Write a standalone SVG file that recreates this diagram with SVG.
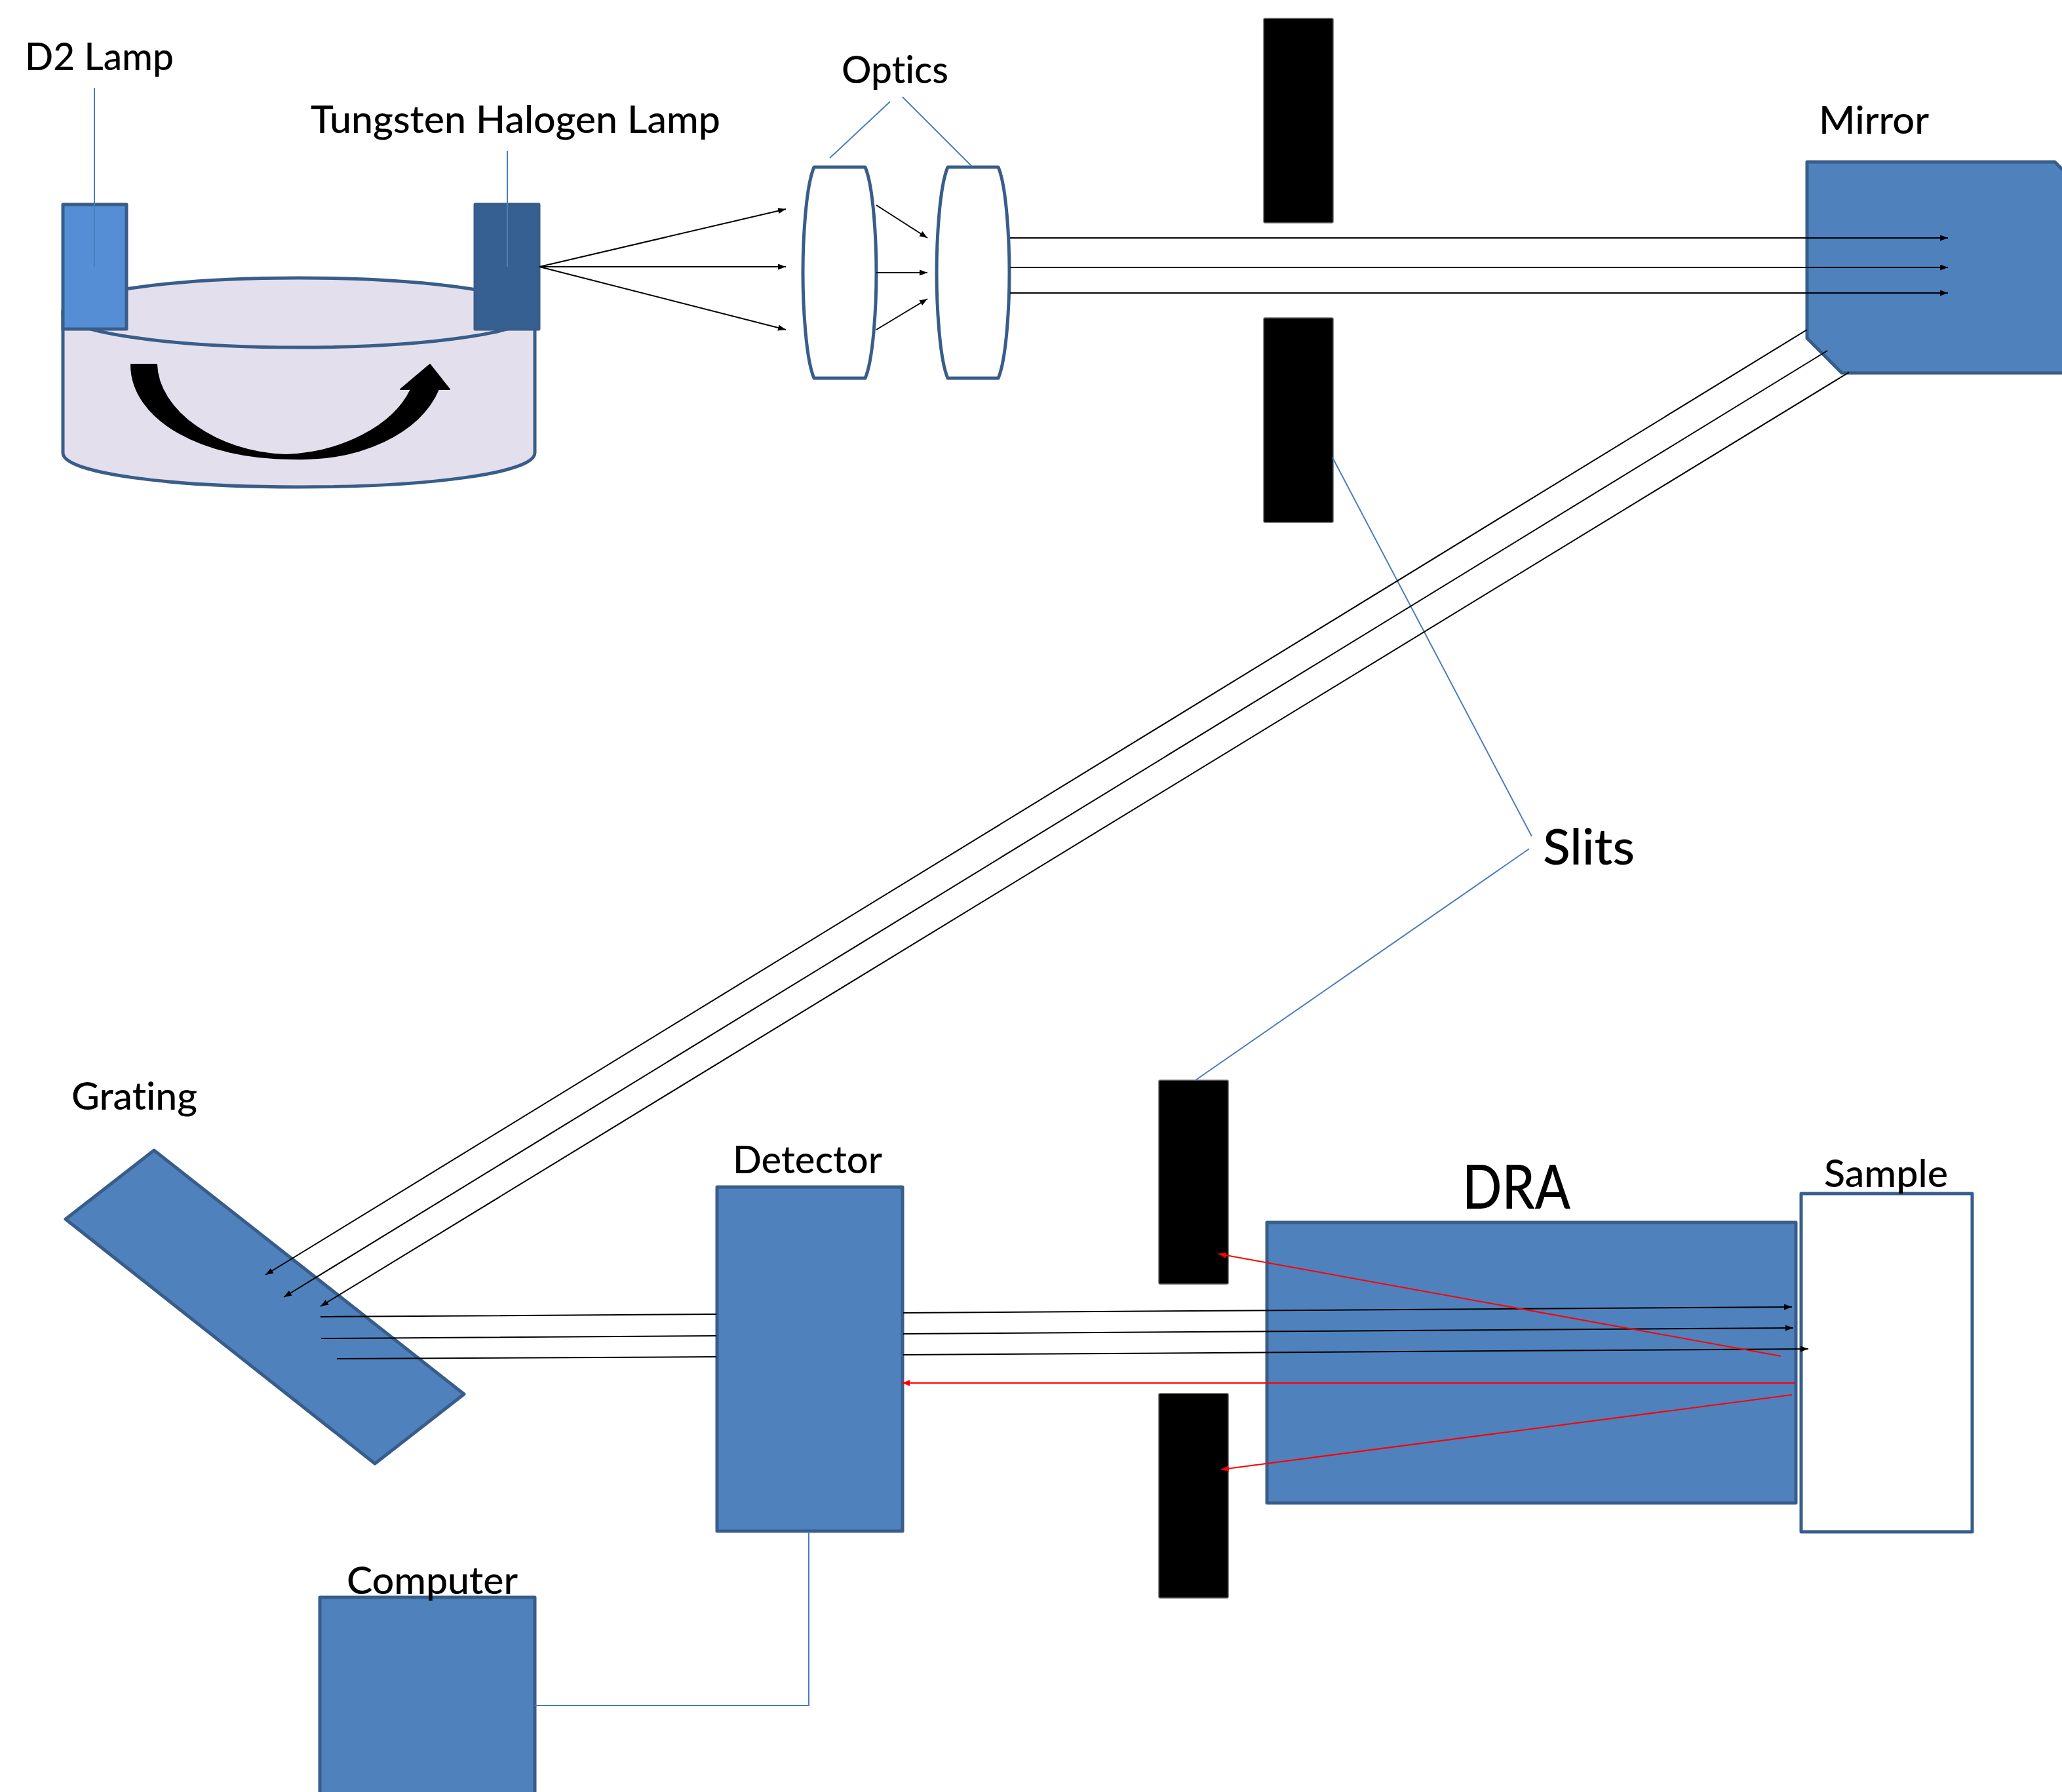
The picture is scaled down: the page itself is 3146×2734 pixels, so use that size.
<svg xmlns="http://www.w3.org/2000/svg" width="3146" height="2734" viewBox="0 0 3146 2734">
<style>
.b{fill:#4F81BD;stroke:#385D8A;stroke-width:5;stroke-linejoin:round}
.w{fill:#fff;stroke:#385D8A;stroke-width:5;stroke-linejoin:round}
.s{fill:#000;stroke:#666;stroke-width:1.5}
.t{font-family:Lato,"Liberation Sans",sans-serif;font-size:57px;font-weight:500;font-variant-ligatures:none;fill:#000}
.beam{fill:none;stroke:#000;stroke-width:2}
.arr{fill:none;stroke:#000;stroke-width:2;marker-end:url(#ak)}
.red{fill:none;stroke:#F00;stroke-width:2;marker-end:url(#ar)}
.lead{fill:none;stroke:#4A7EBB;stroke-width:2}
</style>
<defs>
<marker id="ak" markerUnits="userSpaceOnUse" markerWidth="13" markerHeight="10" refX="12" refY="4.500" orient="auto"><path d="M0 0L12 4.500L0 9Z" fill="#000"/></marker>
<marker id="ar" markerUnits="userSpaceOnUse" markerWidth="13" markerHeight="10" refX="12" refY="4.500" orient="auto"><path d="M0 0L12 4.500L0 9Z" fill="#F00"/></marker>
</defs>
<rect width="3146" height="2734" fill="#fff"/>

<g id="turntable">
<path d="M96 476V691C96 722 260 743 456 743C652 743 816 722 816 691V476Z" fill="#E4DFEC" stroke="#385D8A" stroke-width="5"/>
<ellipse cx="456" cy="477" rx="360" ry="53" fill="#E4DFEC" stroke="#385D8A" stroke-width="5"/>
<path id="rotation-arrow" d="M200 556H239C241 626 330 691 436 694C520 691 600 651 627 594H611L656 556L686 594H669C640 661 550 703 448 700C310 701 200 641 200 556Z" fill="#000" stroke="#000" stroke-width="2" stroke-linejoin="round"/>
</g>
<g id="d2-lamp">
<rect x="96" y="312" width="97" height="190" fill="#558ED5" stroke="#385D8A" stroke-width="5" stroke-linejoin="round"/>
<text class="t" x="38" y="107" textLength="227" lengthAdjust="spacingAndGlyphs">D2 Lamp</text>
</g>
<g id="tungsten-lamp">
<rect x="725" y="312" width="97" height="190" fill="#376092" stroke="#385D8A" stroke-width="5" stroke-linejoin="round"/>
<text class="t" x="474" y="203" textLength="625" lengthAdjust="spacingAndGlyphs">Tungsten Halogen Lamp</text>
</g>
<g id="lens-1"><path class="w" d="M1242 255H1320C1333 285 1337 370 1337 416C1337 462 1333 547 1320 577H1242C1229 547 1225 462 1225 416C1225 370 1229 285 1242 255Z"/></g>
<g id="lens-2"><path class="w" d="M1446 255H1523C1536 285 1540 370 1540 416C1540 462 1536 547 1523 577H1446C1433 547 1429 462 1429 416C1429 370 1433 285 1446 255Z"/></g>
<g id="optics-label"><text class="t" x="1284" y="127" textLength="163" lengthAdjust="spacingAndGlyphs">Optics</text></g>
<g id="slit-1"><rect class="s" x="1928" y="28" width="106" height="312" rx="2"/></g>
<g id="slit-2"><rect class="s" x="1928" y="485" width="106" height="312" rx="2"/></g>
<g id="mirror">
<path class="b" d="M2757 247H3135L3190 302V569H2810L2757 516Z"/>
<text class="t" x="2775" y="204" textLength="168" lengthAdjust="spacingAndGlyphs">Mirror</text>
</g>
<g id="slits-label"><text class="t" x="2354" y="1319" style="font-size:76px" textLength="140" lengthAdjust="spacingAndGlyphs">Slits</text></g>
<g id="grating">
<path class="b" d="M235 1755L100 1860L572 2233L708 2127Z"/>
<text class="t" x="109" y="1693" textLength="192" lengthAdjust="spacingAndGlyphs">Grating</text>
</g>
<g id="detector">
<rect class="b" x="1094" y="1811" width="283" height="525"/>
<text class="t" x="1118" y="1790" textLength="228" lengthAdjust="spacingAndGlyphs">Detector</text>
</g>
<g id="slit-3"><rect class="s" x="1768" y="1648" width="106" height="311" rx="2"/></g>
<g id="slit-4"><rect class="s" x="1768" y="2126" width="106" height="312" rx="2"/></g>
<g id="dra">
<rect class="b" x="1933" y="1865" width="807" height="428"/>
<text class="t" x="2231" y="1844" style="font-size:92px" textLength="165" lengthAdjust="spacingAndGlyphs">DRA</text>
</g>
<g id="sample">
<rect class="w" x="2748" y="1821" width="261" height="516"/>
<text class="t" x="2783" y="1811" textLength="189" lengthAdjust="spacingAndGlyphs">Sample</text>
</g>
<g id="computer">
<rect class="b" x="488" y="2437" width="328" height="320"/>
<text class="t" x="529" y="2432" textLength="261" lengthAdjust="spacingAndGlyphs">Computer</text>
</g>

<g id="connectors">
<path class="lead" d="M144 134V407M774 230V407M1266 241L1358 155M1377 148L1483 254M2033 698L2337 1276M2333 1295L1824 1648M1234 2337V2602H816"/>
<path class="arr" d="M823 407L1199 319"/>
<path class="arr" d="M823 407H1199"/>
<path class="arr" d="M823 407L1199 503"/>
<path class="arr" d="M1337 313L1415 363"/>
<path class="arr" d="M1337 416H1415"/>
<path class="arr" d="M1337 503L1415 456"/>
<path class="arr" d="M1541 363H2972"/>
<path class="arr" d="M1541 408H2972"/>
<path class="arr" d="M1541 447H2972"/>
<path class="arr" d="M2757 503L405 1945"/>
<path class="arr" d="M2788 535L433 1979"/>
<path class="arr" d="M2821 568L489 1993"/>
<path class="beam" d="M489 2009L1093 2005M490 2042L1093 2038M514 2073L1093 2070"/>
<path class="arr" d="M1378 2003L2734 1994"/>
<path class="arr" d="M1378 2035L2736 2026"/>
<path class="arr" d="M1378 2067L2759 2058"/>
<path class="red" d="M2717 2069L1859 1913"/>
<path class="red" d="M2739 2110H1376"/>
<path class="red" d="M2734 2128L1863 2242"/>
</g>
</svg>
